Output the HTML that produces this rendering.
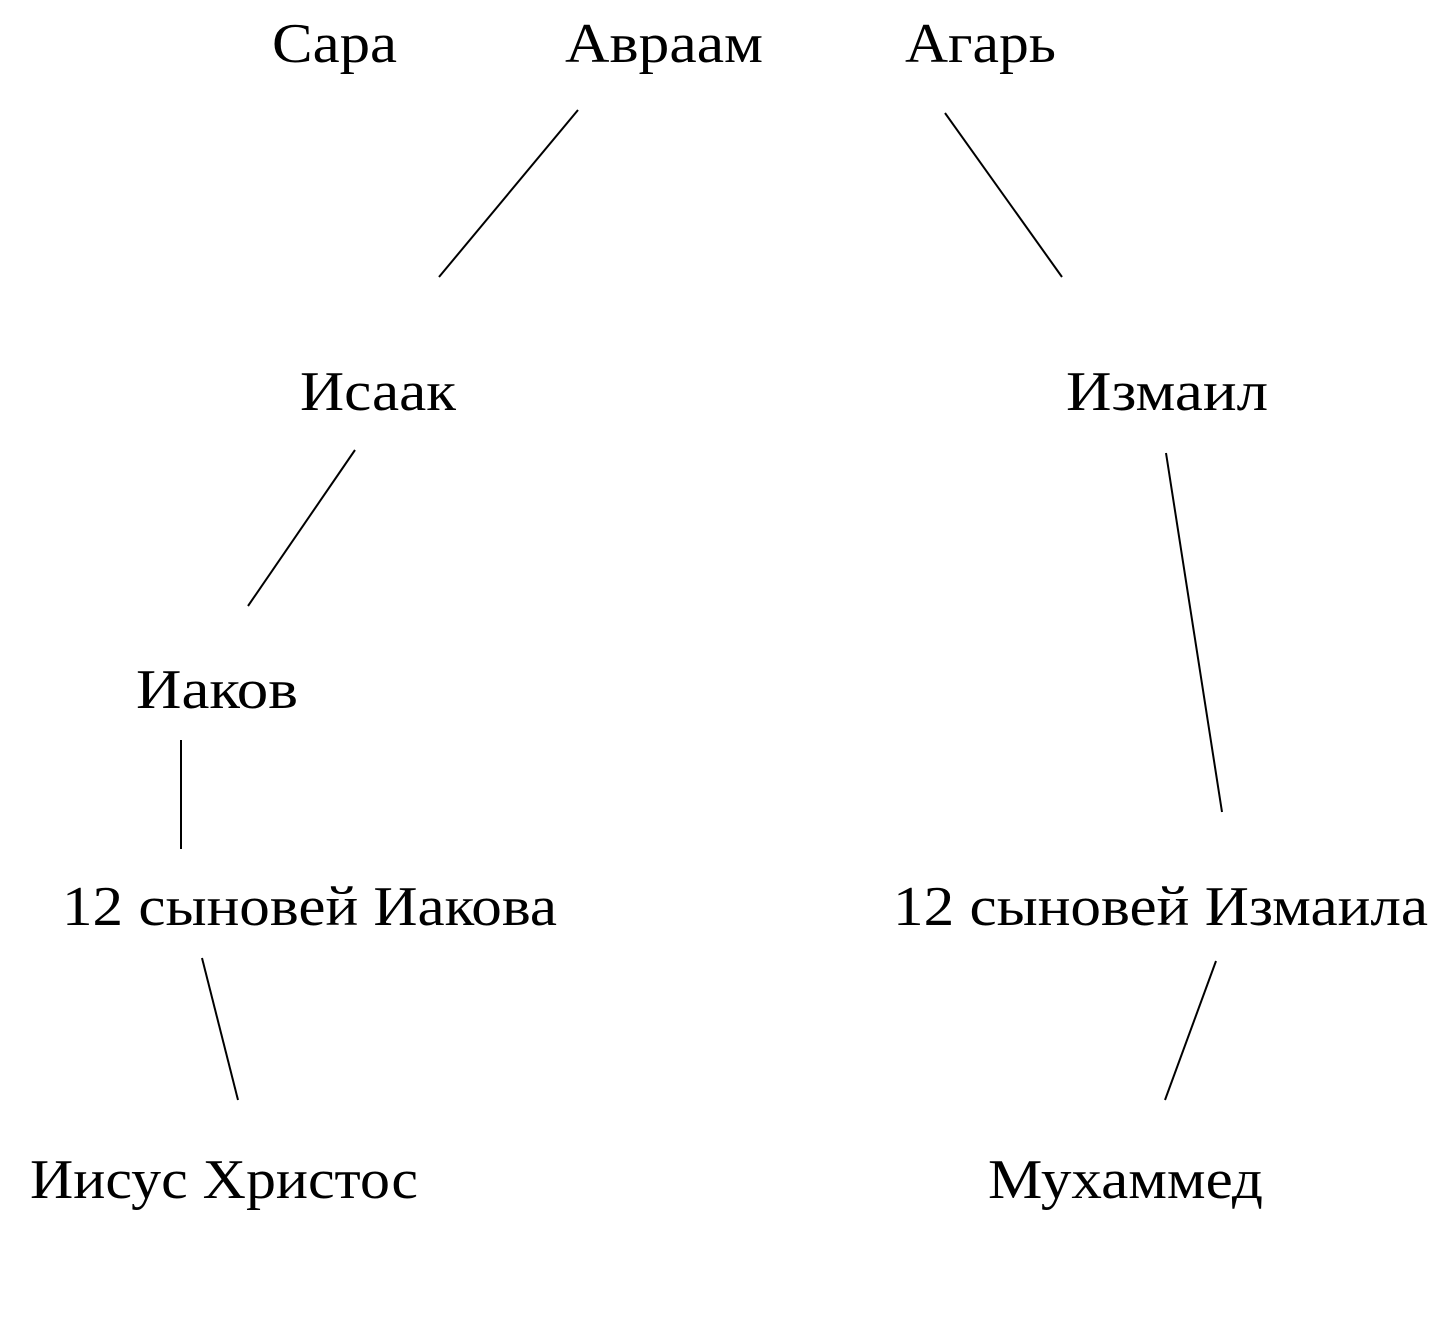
<!DOCTYPE html>
<html><head><meta charset="utf-8"><style>html,body{margin:0;padding:0;background:#fff}svg{display:block}</style></head>
<body>
<svg width="1451" height="1318" viewBox="0 0 1451 1318" xmlns="http://www.w3.org/2000/svg">
<g font-family="'Liberation Serif', serif" font-size="56" fill="#000">
<text x="272" y="62" textLength="125" lengthAdjust="spacingAndGlyphs">Сара</text>
<text x="565" y="62" textLength="198" lengthAdjust="spacingAndGlyphs">Авраам</text>
<text x="905" y="62" textLength="151" lengthAdjust="spacingAndGlyphs">Агарь</text>
<text x="300" y="410" textLength="156" lengthAdjust="spacingAndGlyphs">Исаак</text>
<text x="1066" y="410" textLength="202" lengthAdjust="spacingAndGlyphs">Измаил</text>
<text x="136" y="708" textLength="162" lengthAdjust="spacingAndGlyphs">Иаков</text>
<text x="62" y="925" textLength="495" lengthAdjust="spacingAndGlyphs">12 сыновей Иакова</text>
<text x="893" y="925" textLength="535" lengthAdjust="spacingAndGlyphs">12 сыновей Измаила</text>
<text x="30" y="1198" textLength="388" lengthAdjust="spacingAndGlyphs">Иисус Христос</text>
<text x="988" y="1198" textLength="275" lengthAdjust="spacingAndGlyphs">Мухаммед</text>
</g>
<g stroke="#000" stroke-width="2" fill="none">
<line x1="578" y1="110" x2="439" y2="277"/>
<line x1="945" y1="113" x2="1062" y2="277"/>
<line x1="355" y1="450" x2="248" y2="606"/>
<line x1="1166" y1="453" x2="1222" y2="812"/>
<line x1="181" y1="740" x2="181" y2="849"/>
<line x1="202" y1="958" x2="238" y2="1100"/>
<line x1="1216" y1="961" x2="1165" y2="1100"/>
</g>
</svg>
</body></html>
